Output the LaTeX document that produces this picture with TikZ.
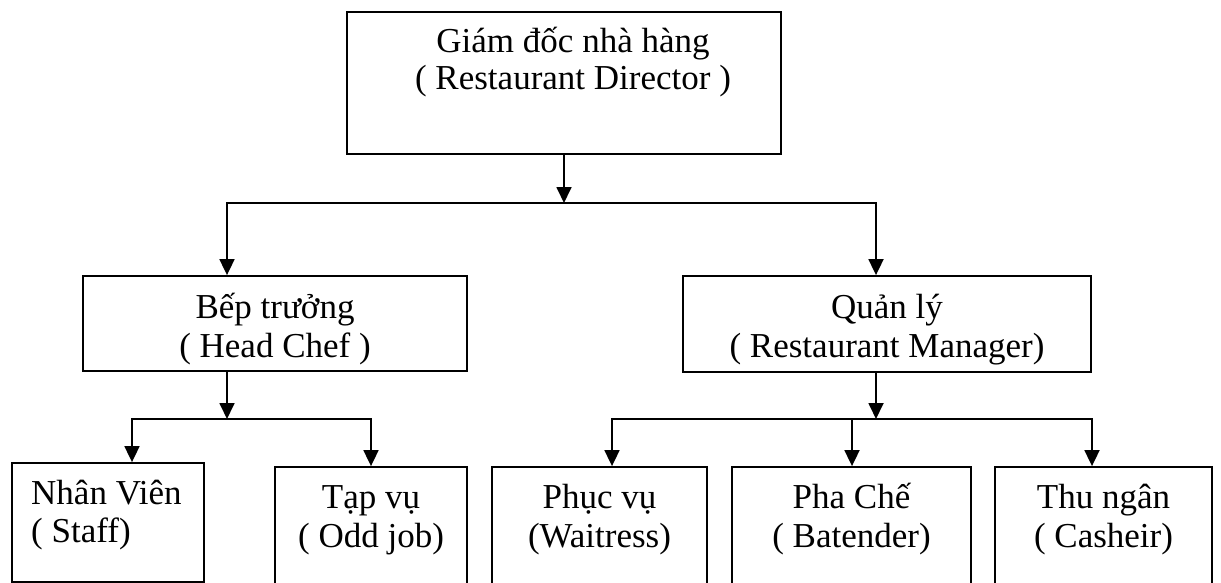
\documentclass[tikz,border=0pt]{standalone}
\usepackage{fontspec}
\setmainfont{Liberation Serif}
\usetikzlibrary{arrows.meta}
\begin{document}
\begin{tikzpicture}[x=1pt,y=-1pt,
  box/.style={draw, line width=1.8pt, rectangle, inner sep=0pt},
  txt/.style={anchor=base, inner sep=0pt, font=\fontsize{35}{38}\selectfont},
  arr/.style={line width=1.8pt, -{Triangle[width=15pt,length=16pt]}}]
\useasboundingbox (0,0) rectangle (1221,583);
\clip (0,0) rectangle (1221,583);
% boxes
\node[box, minimum width=434pt, minimum height=142pt] (dir) at (564,83) {};
\node[box, minimum width=384pt, minimum height=95pt] (bep) at (275,323.5) {};
\node[box, minimum width=408pt, minimum height=96pt] (ql) at (887,324) {};
\node[box, minimum width=192pt, minimum height=119pt] (nv) at (108,522.5) {};
\node[box, minimum width=192pt, minimum height=140pt] (tv) at (371,537) {};
\node[box, minimum width=215pt, minimum height=140pt] (pv) at (599.5,537) {};
\node[box, minimum width=239pt, minimum height=140pt] (pc) at (851.5,537) {};
\node[box, minimum width=217pt, minimum height=140pt] (tn) at (1103.5,537) {};
% texts
\node[txt] (dirA) at (573,53) {Giám đốc nhà hàng};
\node[txt] (dirB) at (573,90) {( Restaurant Director )};
\node[txt] (bepA) at (275,318) {Bếp trưởng};
\node[txt] (bepB) at (275,357) {( Head Chef )};
\node[txt] (qlA) at (887,318) {Quản lý};
\node[txt] (qlB) at (887,357) {( Restaurant Manager)};
\node[txt, anchor=base west] (nvA) at (31,504) {Nhân Viên};
\node[txt, anchor=base west] (nvB) at (31,542) {( Staff)};
\node[txt] (tvA) at (371,508) {Tạp vụ};
\node[txt] (tvB) at (371,547) {( Odd job)};
\node[txt] (pvA) at (599.5,508) {Phục vụ};
\node[txt] (pvB) at (599.5,547) {(Waitress)};
\node[txt] (pcA) at (851.5,508) {Pha Chế};
\node[txt] (pcB) at (851.5,547) {( Batender)};
\node[txt] (tnA) at (1103.5,508) {Thu ngân};
\node[txt] (tnB) at (1103.5,547) {( Casheir)};
% connectors
\coordinate (j1) at (564,203);
\draw[arr] (dir.south) -- (j1);
\draw[arr] (j1) -| ([xshift=-48pt]bep.north);
\draw[arr] (j1) -| ([xshift=-11pt]ql.north);
\coordinate (j2) at (227,419);
\draw[arr] ([xshift=-48pt]bep.south) -- (j2);
\draw[arr] (j2) -| ([xshift=24pt]nv.north);
\draw[arr] (j2) -| (tv.north);
\coordinate (j3) at (876,419);
\draw[arr] ([xshift=-11pt]ql.south) -- (j3);
\draw[arr] (j3) -| ([xshift=12.5pt]pv.north);
\draw[arr] (j3) -| ([xshift=0.5pt]pc.north);
\draw[arr] (j3) -| ([xshift=-11.5pt]tn.north);
\end{tikzpicture}
\end{document}
